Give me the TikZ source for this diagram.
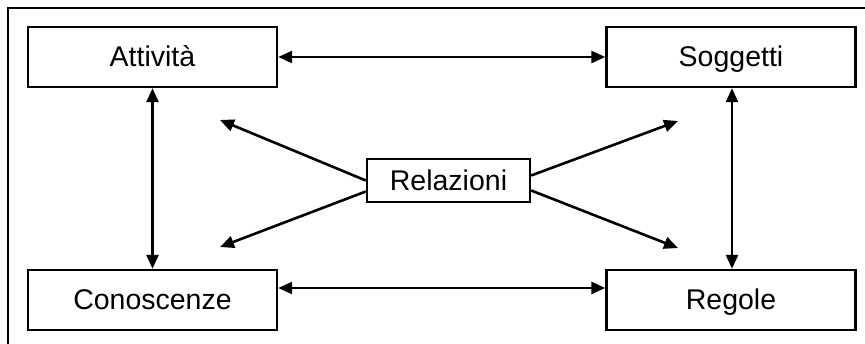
\documentclass[tikz,border=0pt]{standalone}
\usepackage{fontspec}
\setmainfont{Liberation Sans}
\usetikzlibrary{arrows.meta}
\begin{document}
\begin{tikzpicture}[x=1pt,y=1pt,
  label text/.style={font=\fontsize{28.5}{32}\selectfont, text height=20pt, text depth=0pt},
  box/.style={draw, line width=2.4pt, rectangle, minimum width=249pt, minimum height=60pt,
    inner sep=0pt, label text},
  relbox/.style={draw, line width=2.4pt, rectangle, minimum width=163pt, minimum height=43pt,
    inner sep=0pt, label text},
  tip/.style={Triangle[length=14pt,width=12pt]},
  link/.style={line width=2.6pt, {Triangle[length=14pt,width=12pt]}-{Triangle[length=14pt,width=12pt]}},
  ray/.style={line width=2.6pt, -{Triangle[length=14pt,width=12pt]}}]
  \useasboundingbox (0,0) rectangle (865,-344);
  % outer frame (top and left edges)
  \draw[line width=2.4pt] (8,-344) -- (8,-8) -- (865,-8);
  % concept boxes
  \node[box] (att) at (152.5,-57) {Attività};
  \node[box] (sog) at (731,-57) {Soggetti};
  \node[box] (con) at (152.5,-300) {Conoscenze};
  \node[box] (reg) at (731,-300) {Regole};
  \node[relbox] (rel) at (448.5,-180.5) {Relazioni};
  % two-way links between boxes
  \draw[link] (att.east) -- (sog.west);
  \draw[link] ([yshift=12pt]con.east) -- ([yshift=12pt]reg.west);
  \draw[link] (att.south) -- (con.north);
  \draw[link] ([xshift=1pt]sog.south) -- ([xshift=1pt]reg.north);
  % rays from Relazioni
  \coordinate (ul) at (220,-120);
  \coordinate (ll) at (220,-247);
  \coordinate (ur) at (678,-121);
  \coordinate (lr) at (678,-248);
  \draw[ray] (rel.west) -- (ul);
  \draw[ray] ([yshift=-11pt]rel.west) -- (ll);
  \draw[ray] ([yshift=5pt]rel.east) -- (ur);
  \draw[ray] ([yshift=-10pt]rel.east) -- (lr);
\end{tikzpicture}
\end{document}
